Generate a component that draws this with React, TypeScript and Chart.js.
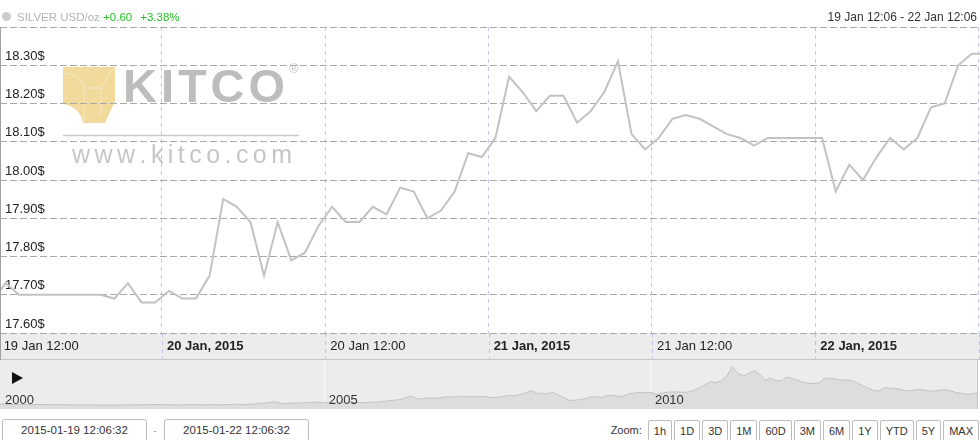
import React, { useEffect, useRef } from 'react';
import { Chart, registerables } from 'chart.js';

Chart.register(...registerables);

const FONT = '"Liberation Sans", Arial, Helvetica, sans-serif';

// ---- main series: hourly silver quotes (USD/oz), 19 Jan 2015 11:30 .. 22 Jan 2015 12:06
// x is hours after 19 Jan 2015 12:00
const quoteHours = [
  -0.5, 0.5, 1.5, 2.5, 3.5, 4.5, 5.5, 6.5, 7.5, 8.5, 9.5, 10.5, 11.5, 12.5, 13.5, 14.5,
  15.5, 16.5, 17.5, 18.5, 19.5, 20.5, 21.5, 22.5, 23.5, 24.5, 25.5, 26.5, 27.5, 28.5, 29.5,
  30.5, 31.5, 32.5, 33.5, 34.5, 35.5, 36.5, 37.5, 38.5, 39.5, 40.5, 41.5, 42.5, 43.5, 44.5,
  45.5, 46.5, 47.5, 48.5, 49.5, 50.5, 51.5, 52.5, 53.5, 54.5, 55.5, 56.5, 57.5, 58.5, 59.5,
  60.5, 61.5, 62.5, 63.5, 64.5, 65.5, 66.5, 67.5, 68.5, 69.5, 70.5, 71.5, 72.1,
];
const silverPrices = [
  17.68, 17.73, 17.70, 17.70, 17.70, 17.70, 17.70, 17.70, 17.70, 17.69, 17.73, 17.68, 17.68, 17.71, 17.69, 17.69,
  17.75, 17.95, 17.93, 17.89, 17.75, 17.89, 17.79, 17.81, 17.88, 17.93, 17.89, 17.89, 17.93, 17.91, 17.98,
  17.97, 17.90, 17.92, 17.97, 18.07, 18.06, 18.11, 18.27, 18.23, 18.18, 18.22, 18.22, 18.15, 18.18, 18.23,
  18.31, 18.12, 18.08, 18.11, 18.16, 18.17, 18.16, 18.14, 18.12, 18.11, 18.09, 18.11, 18.11, 18.11, 18.11,
  18.11, 17.97, 18.04, 18.00, 18.06, 18.11, 18.08, 18.11, 18.19, 18.20, 18.30, 18.33, 18.33,
];

const xMin = 0.1; // 19 Jan 12:06
const xMax = 72.1; // 22 Jan 12:06
const xTickValues = [0, 12, 24, 36, 48, 60, 72];
const xTickLabels = ['19 Jan 12:00', '20 Jan, 2015', '20 Jan 12:00', '21 Jan, 2015', '21 Jan 12:00', '22 Jan, 2015', ''];

const yMin = 17.6;
const yMax = 18.4;
const yTickValues = [17.6, 17.7, 17.8, 17.9, 18.0, 18.1, 18.2, 18.3, 18.4];
const yTickLabels = ['17.60$', '17.70$', '17.80$', '17.90$', '18.00$', '18.10$', '18.20$', '18.30$', ''];

// ---- navigator: monthly silver prices Jan 2000 .. Jan 2015
const navStartYear = 2000;
const navMonthlyPrices = [
  5.2, 5.3, 5.1, 5.1, 5.0, 5.0, 5.0, 4.9, 4.9, 4.9, 4.7, 4.6,
  4.7, 4.5, 4.4, 4.4, 4.4, 4.4, 4.3, 4.3, 4.3, 4.3, 4.2, 4.4,
  4.5, 4.4, 4.6, 4.6, 4.8, 4.9, 4.9, 4.6, 4.6, 4.4, 4.6, 4.7,
  4.8, 4.6, 4.5, 4.6, 4.6, 4.5, 4.8, 5.0, 5.2, 4.9, 5.0, 5.3,
  6.3, 6.5, 7.3, 7.8, 5.9, 5.9, 6.4, 6.6, 6.4, 7.1, 7.5, 7.0,
  6.7, 7.0, 7.2, 7.1, 7.2, 7.2, 7.0, 7.0, 7.1, 7.5, 7.7, 8.5,
  9.1, 9.6, 10.4, 12.6, 13.8, 10.8, 11.2, 12.2, 11.6, 11.8, 12.9, 13.4,
  12.8, 13.9, 13.1, 13.7, 13.3, 13.5, 12.9, 12.4, 12.9, 13.7, 14.8, 14.3,
  15.9, 17.6, 19.8, 17.3, 16.9, 16.9, 17.8, 14.8, 12.4, 9.2, 9.5, 10.3,
  11.3, 13.4, 13.1, 12.5, 14.6, 14.7, 13.4, 14.1, 16.5, 17.4, 17.8, 17.6,
  17.8, 15.9, 17.1, 18.1, 18.4, 18.5, 18.0, 18.4, 20.6, 23.3, 26.5, 29.4,
  28.4, 30.8, 36.0, 46.0, 38.0, 36.0, 38.5, 41.5, 37.5, 31.0, 33.5, 30.5,
  30.5, 34.5, 33.0, 31.5, 28.5, 28.0, 27.5, 28.5, 33.5, 33.0, 32.5, 31.0,
  31.5, 30.5, 28.5, 25.0, 22.5, 20.0, 19.5, 23.0, 22.5, 22.0, 21.0, 19.5,
  20.0, 21.0, 21.0, 19.5, 19.5, 20.0, 21.0, 20.0, 18.0, 17.0, 16.0, 16.0,
  17.5,
];
const navYearTicks = [2000, 2005, 2010, 2015];
const navYearLabels = ['2000', '2005', '2010', ''];
const navMin = 2000.02;
const navMax = 2015.0;

const zoomButtons = ['1h', '1D', '3D', '1M', '60D', '3M', '6M', '1Y', 'YTD', '5Y', 'MAX'];

const GRID_H = '#a9a9a9';
const GRID_V = 'rgba(175,175,240,0.75)';

function drawWatermark(ctx: CanvasRenderingContext2D) {
  ctx.save();
  // gold bar
  ctx.fillStyle = '#f2da9d';
  ctx.beginPath();
  ctx.moveTo(63, 67);
  ctx.lineTo(115, 67);
  ctx.lineTo(115, 101);
  ctx.lineTo(105, 123);
  ctx.lineTo(83, 123);
  ctx.quadraticCurveTo(80, 107, 63, 104);
  ctx.closePath();
  ctx.fill();
  ctx.strokeStyle = 'rgba(255,255,255,0.75)';
  ctx.lineWidth = 1;
  ctx.setLineDash([1, 1]);
  ctx.beginPath();
  ctx.moveTo(64, 73);
  ctx.quadraticCurveTo(82, 75, 84, 88);
  ctx.lineTo(84, 122);
  ctx.moveTo(84, 88);
  ctx.lineTo(101, 88);
  ctx.lineTo(113, 68);
  ctx.moveTo(101, 88);
  ctx.lineTo(101, 116);
  ctx.stroke();
  ctx.setLineDash([]);

  // KITCO lettering
  const word = 'KITCO';
  ctx.fillStyle = '#bdbdbd';
  ctx.font = `bold 47px ${FONT}`;
  ctx.textBaseline = 'alphabetic';
  ctx.textAlign = 'left';
  let total = 0;
  for (const ch of word) total += ctx.measureText(ch).width;
  const gap = (162 - total) / (word.length - 1);
  let x = 123;
  for (const ch of word) {
    ctx.fillText(ch, x, 101.5);
    x += ctx.measureText(ch).width + gap;
  }
  ctx.font = `13px ${FONT}`;
  ctx.fillStyle = '#c8c8c8';
  ctx.fillText('®', 289, 73);

  // rule
  ctx.strokeStyle = '#c9c9c9';
  ctx.lineWidth = 1.5;
  ctx.beginPath();
  ctx.moveTo(63, 135.5);
  ctx.lineTo(299, 135.5);
  ctx.stroke();

  // url
  const url = 'www.kitco.com';
  ctx.font = `25px ${FONT}`;
  ctx.fillStyle = '#c6c6c6';
  let t2 = 0;
  for (const ch of url) t2 += ctx.measureText(ch).width;
  const gap2 = (220 - t2) / (url.length - 1);
  x = 72;
  for (const ch of url) {
    ctx.fillText(ch, x, 163);
    x += ctx.measureText(ch).width + gap2;
  }
  ctx.restore();
}

const mainDecor = {
  id: 'mainDecor',
  beforeDraw(chart: any) {
    const { ctx, chartArea } = chart;
    const xs = chart.scales.x;
    ctx.save();
    // axis label band
    ctx.fillStyle = '#ececec';
    ctx.fillRect(0, chartArea.bottom, chart.width, 27);
    ctx.strokeStyle = '#c6c6c6';
    ctx.lineWidth = 1;
    ctx.beginPath();
    ctx.moveTo(0, chartArea.bottom + 26.5);
    ctx.lineTo(chart.width, chartArea.bottom + 26.5);
    ctx.stroke();
    // separators inside band
    ctx.strokeStyle = GRID_V;
    ctx.setLineDash([4, 4]);
    ctx.beginPath();
    xs.ticks.forEach((t: any) => {
      const px = Math.round(xs.getPixelForValue(t.value)) + 0.5;
      ctx.moveTo(px, chartArea.bottom);
      ctx.lineTo(px, chartArea.bottom + 26);
    });
    ctx.stroke();
    ctx.setLineDash([]);
    drawWatermark(ctx);
    ctx.restore();
  },
  afterDraw(chart: any) {
    const { ctx, chartArea } = chart;
    ctx.save();
    ctx.strokeStyle = '#a0a0a0';
    ctx.lineWidth = 1;
    ctx.beginPath();
    ctx.moveTo(chartArea.left + 0.5, chartArea.top);
    ctx.lineTo(chartArea.left + 0.5, chartArea.bottom + 27);
    ctx.stroke();
    ctx.restore();
  },
};

const navDecor = {
  id: 'navDecor',
  afterDraw(chart: any) {
    const { ctx } = chart;
    const xs = chart.scales.x;
    ctx.save();
    ctx.font = `13px ${FONT}`;
    ctx.fillStyle = '#333';
    ctx.textBaseline = 'alphabetic';
    ctx.textAlign = 'left';
    navYearTicks.forEach((yr, i) => {
      const label = navYearLabels[i];
      if (!label) return;
      ctx.fillText(label, Math.max(xs.getPixelForValue(yr) + 4, 5), 44);
    });
    ctx.restore();
  },
};

export default function App() {
  const mainRef = useRef<HTMLCanvasElement | null>(null);
  const navRef = useRef<HTMLCanvasElement | null>(null);

  useEffect(() => {
    if (!mainRef.current || !navRef.current) return;
    const main = new Chart(mainRef.current, {
      type: 'line',
      data: {
        datasets: [
          {
            data: silverPrices.map((p, i) => ({ x: quoteHours[i], y: p })),
            borderColor: '#c2c2c2',
            borderWidth: 2,
            pointRadius: 0,
            tension: 0,
            fill: false,
          },
        ],
      },
      options: {
        responsive: false,
        animation: false,
        devicePixelRatio: 1,
        events: [],
        layout: { padding: { top: 27, left: 0, right: 0, bottom: 0 } },
        plugins: { legend: { display: false }, tooltip: { enabled: false } },
        scales: {
          x: {
            type: 'linear',
            min: xMin,
            max: xMax,
            afterBuildTicks: (axis: any) => {
              axis.ticks = xTickValues.map((v) => ({ value: v }));
            },
            afterFit: (axis: any) => {
              axis.height = 27;
              axis.paddingLeft = 0;
              axis.paddingRight = 0;
              axis.paddingTop = 0;
              axis.paddingBottom = 0;
            },
            grid: { color: GRID_V, lineWidth: 1, drawTicks: false },
            border: { display: false, dash: [4, 4] },
            ticks: {
              autoSkip: false,
              maxRotation: 0,
              minRotation: 0,
              align: 'start',
              labelOffset: 5,
              padding: 6,
              color: '#222',
              font: (c: any) => ({
                family: FONT,
                size: 13,
                weight: (xTickLabels[c.index] || '').includes(',') ? 'bold' : 'normal',
              }),
              callback: (_v: any, i: number) => xTickLabels[i],
            },
          } as any,
          y: {
            min: yMin,
            max: yMax,
            afterBuildTicks: (axis: any) => {
              axis.ticks = yTickValues.map((v) => ({ value: v }));
            },
            afterFit: (axis: any) => {
              axis.width = 0;
              axis.paddingLeft = 0;
              axis.paddingRight = 0;
              axis.paddingTop = 0;
              axis.paddingBottom = 0;
            },
            grid: { color: GRID_H, lineWidth: 1, drawTicks: false },
            border: { display: false, dash: [7, 3] },
            ticks: {
              mirror: true,
              padding: 5,
              labelOffset: -9,
              color: '#222',
              font: { family: FONT, size: 13 },
              callback: (_v: any, i: number) => yTickLabels[i],
            },
          } as any,
        },
      },
      plugins: [mainDecor],
    });

    const nav = new Chart(navRef.current, {
      type: 'line',
      data: {
        datasets: [
          {
            data: navMonthlyPrices.map((p, i) => ({ x: navStartYear + i / 12, y: p })),
            borderColor: '#c3c3c3',
            borderWidth: 1,
            backgroundColor: 'rgba(205,205,205,0.5)',
            fill: 'origin',
            pointRadius: 0,
            tension: 0,
          },
        ],
      },
      options: {
        responsive: false,
        animation: false,
        devicePixelRatio: 1,
        events: [],
        layout: { padding: 0 },
        plugins: { legend: { display: false }, tooltip: { enabled: false } },
        scales: {
          x: {
            type: 'linear',
            min: navMin,
            max: navMax,
            afterBuildTicks: (axis: any) => {
              axis.ticks = navYearTicks.map((v) => ({ value: v }));
            },
            afterFit: (axis: any) => {
              axis.height = 0;
              axis.paddingLeft = 0;
              axis.paddingRight = 0;
            },
            ticks: { display: false },
            grid: { color: '#f9f9f9', drawTicks: false },
            border: { display: false },
          } as any,
          y: { display: false, min: 0, max: 53 },
        },
      },
      plugins: [navDecor],
    });

    return () => {
      main.destroy();
      nav.destroy();
    };
  }, []);

  const boxStyle: React.CSSProperties = {
    position: 'absolute',
    top: 419,
    width: 145,
    height: 24,
    boxSizing: 'border-box',
    border: '1px solid #bdbdbd',
    borderRadius: 3,
    background: '#fff',
    color: '#333',
    fontSize: 11.5,
    lineHeight: '20px',
    textAlign: 'center',
    whiteSpace: 'nowrap',
  };

  return (
    <div
      style={{
        position: 'fixed',
        left: 0,
        top: 0,
        width: 980,
        height: 440,
        overflow: 'hidden',
        background: '#fff',
        fontFamily: FONT,
      }}
    >
      <canvas
        ref={mainRef}
        width={980}
        height={360}
        style={{ position: 'absolute', left: 0, top: 0, width: 980, height: 360 }}
      />
      {/* header */}
      <div
        style={{
          position: 'absolute',
          left: 1.6,
          top: 12,
          width: 9.4,
          height: 9.4,
          borderRadius: '50%',
          background: '#cbcbcb',
        }}
      />
      <div
        style={{
          position: 'absolute',
          left: 17,
          top: 10,
          fontSize: 11.5,
          lineHeight: '14px',
          color: '#b3b3b3',
          whiteSpace: 'nowrap',
        }}
      >
        SILVER USD/oz <span style={{ color: '#25c025' }}>+0.60</span>
        <span style={{ color: '#25c025', marginLeft: 8 }}>+3.38%</span>
      </div>
      <div
        style={{
          position: 'absolute',
          right: 3,
          top: 10,
          fontSize: 12,
          lineHeight: '14px',
          color: '#333',
          whiteSpace: 'nowrap',
        }}
      >
        19 Jan 12:06 - 22 Jan 12:06
      </div>

      {/* navigator */}
      <div
        style={{
          position: 'absolute',
          left: 0,
          top: 360,
          width: 978,
          height: 49,
          background: '#ececec',
          boxSizing: 'border-box',
          borderRight: '1px solid #c6c6c6',
        }}
      >
        <canvas
          ref={navRef}
          width={977}
          height={49}
          style={{ position: 'absolute', left: 0, top: 0, width: 977, height: 49 }}
        />
        <div
          style={{
            position: 'absolute',
            left: 12,
            top: 12,
            width: 0,
            height: 0,
            borderLeft: '11px solid #111',
            borderTop: '6px solid transparent',
            borderBottom: '6px solid transparent',
          }}
        />
      </div>

      {/* range inputs */}
      <div style={{ ...boxStyle, left: 2 }}>2015-01-19 12:06:32</div>
      <div
        style={{
          position: 'absolute',
          left: 153,
          top: 421,
          fontSize: 11.5,
          lineHeight: '18px',
          color: '#aaa',
        }}
      >
        -
      </div>
      <div style={{ ...boxStyle, left: 164 }}>2015-01-22 12:06:32</div>

      {/* zoom buttons */}
      <div
        style={{
          position: 'absolute',
          right: 1,
          top: 420,
          display: 'flex',
          alignItems: 'flex-start',
          gap: 2,
          fontSize: 11,
          color: '#333',
        }}
      >
        <span style={{ lineHeight: '20px', marginRight: 4 }}>Zoom:</span>
        {zoomButtons.map((b) => (
          <div
            key={b}
            style={{
              boxSizing: 'border-box',
              height: 24,
              padding: '0 5px',
              border: '1px solid #bdbdbd',
              borderRadius: 2,
              background: '#fff',
              lineHeight: '20px',
              whiteSpace: 'nowrap',
            }}
          >
            {b}
          </div>
        ))}
      </div>
    </div>
  );
}
